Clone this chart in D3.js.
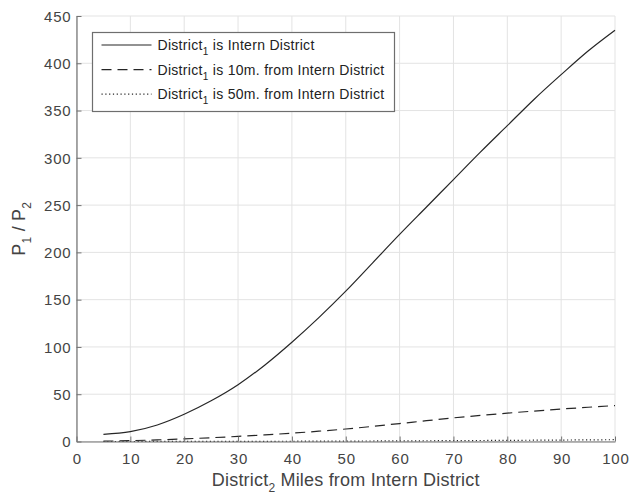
<!DOCTYPE html>
<html>
<head>
<meta charset="utf-8">
<script src="https://cdn.jsdelivr.net/npm/d3@7"></script>
<style>
  html, body { margin: 0; padding: 0; background: #fff; }
  svg { display: block; font-family: "Liberation Sans", Arial, Helvetica, sans-serif; }
</style>
</head>
<body>
<svg id="chart" width="630" height="496"></svg>
<script>
// ---- data ----
const distances = [5, 10, 15, 20, 25, 30, 35, 40, 45, 50, 55, 60, 65, 70, 75, 80, 85, 90, 95, 100];
const internDistrict = [7.6, 10.4, 17.5, 28.8, 43, 60, 81, 105, 131, 159, 189, 219, 248, 277, 306, 334, 362, 388, 413, 435];
const tenMiles = [0.3, 0.9, 1.7, 2.8, 4, 5.4, 7, 8.8, 10.9, 13.2, 16, 19, 22, 25, 27.6, 30, 32.2, 34.3, 36.2, 38];
const fiftyMiles = [0.01, 0.02, 0.04, 0.07, 0.1, 0.15, 0.21, 0.28, 0.36, 0.45, 0.55, 0.66, 0.78, 0.91, 1.05, 1.2, 1.36, 1.53, 1.71, 1.9];
const xTicks = [0, 10, 20, 30, 40, 50, 60, 70, 80, 90, 100];
const yTicks = [0, 50, 100, 150, 200, 250, 300, 350, 400, 450];
const seriesNames = ["is Intern District", "is 10m. from Intern District", "is 50m. from Intern District"];

const svg = d3.select("#chart");
const L = 76.5, R = 615, T = 16, B = 441.5;
const x = d3.scaleLinear().domain([0, 100]).range([L, R]);
const y = d3.scaleLinear().domain([0, 450]).range([B, T]);

const gridColor = "#e3e3e3";
const axisColor = "#737373";
const textColor = "#444";
const lineColor = "#262626";

// grid
const grid = svg.append("g");
grid.selectAll("line.gx").data(xTicks).join("line")
  .attr("x1", d => x(d)).attr("x2", d => x(d)).attr("y1", T).attr("y2", B)
  .attr("stroke", gridColor).attr("stroke-width", 1);
grid.selectAll("line.gy").data(yTicks).join("line")
  .attr("y1", d => y(d)).attr("y2", d => y(d)).attr("x1", L).attr("x2", R)
  .attr("stroke", gridColor).attr("stroke-width", 1);

// series
const series = [
  { vals: internDistrict, dash: null },
  { vals: tenMiles, dash: "10,6" },
  { vals: fiftyMiles, dash: "1.2,2.6" }
];
const line = d3.line().x((d, i) => x(distances[i])).y(d => y(d)).curve(d3.curveMonotoneX);
series.forEach(s => {
  svg.append("path").datum(s.vals)
    .attr("d", line)
    .attr("fill", "none")
    .attr("stroke", lineColor)
    .attr("stroke-width", 1.2)
    .attr("stroke-dasharray", s.dash);
});

// axes (ticks inside)
const xAxis = d3.axisBottom(x).tickValues(xTicks).tickSizeInner(-5).tickSizeOuter(0);
const yAxis = d3.axisLeft(y).tickValues(yTicks).tickSizeInner(-5).tickSizeOuter(0);
const gx = svg.append("g").attr("transform", `translate(0,${B})`).call(xAxis);
const gy = svg.append("g").attr("transform", `translate(${L},0)`).call(yAxis);
[gx, gy].forEach(g => {
  g.select(".domain").attr("stroke", axisColor).attr("stroke-width", 1.2);
  g.selectAll(".tick line").attr("stroke", axisColor);
  g.selectAll(".tick text").attr("fill", textColor).attr("font-size", 15)
    .attr("letter-spacing", 0.8)
    .attr("font-family", "Liberation Sans, Arial, sans-serif");
});
gx.selectAll(".tick text").attr("dy", null).attr("y", 22).attr("dx", 0.4);
gy.selectAll(".tick text").attr("x", -5).attr("dy", "0.35em");

// x label
const xl = svg.append("text")
  .attr("x", (L + R) / 2).attr("y", 486)
  .attr("text-anchor", "middle").attr("font-size", 18).attr("letter-spacing", 0.2).attr("fill", textColor);
xl.append("tspan").text("District");
xl.append("tspan").attr("dy", 6).attr("font-size", 12).text("2");
xl.append("tspan").attr("dy", -6).text(" Miles from Intern District");

// y label
const yl = svg.append("text")
  .attr("transform", `translate(25,${(T + B) / 2}) rotate(-90)`)
  .attr("text-anchor", "middle").attr("font-size", 18).attr("letter-spacing", 0.2).attr("fill", textColor);
yl.append("tspan").text("P");
yl.append("tspan").attr("dy", 6).attr("font-size", 12).text("1");
yl.append("tspan").attr("dy", -6).text(" / P");
yl.append("tspan").attr("dy", 6).attr("font-size", 12).text("2");

// legend
const lg = svg.append("g");
lg.append("rect").attr("x", 92.5).attr("y", 32.5).attr("width", 302).attr("height", 79)
  .attr("fill", "#fff").attr("stroke", "#6e6e6e").attr("stroke-width", 1.2);
seriesNames.forEach((name, i) => {
  const cy = 45 + i * 24.6;
  lg.append("line").attr("x1", 101.5).attr("x2", 151.5).attr("y1", cy).attr("y2", cy)
    .attr("stroke", lineColor).attr("stroke-width", 1.2)
    .attr("stroke-dasharray", series[i].dash);
  const t = lg.append("text").attr("x", 157.5).attr("y", cy + 5)
    .attr("font-size", 14).attr("letter-spacing", 0.3).attr("fill", "#222");
  t.append("tspan").text("District");
  t.append("tspan").attr("dy", 5).attr("font-size", 10).text("1");
  t.append("tspan").attr("dy", -5).text(" " + name);
});
</script>
</body>
</html>
